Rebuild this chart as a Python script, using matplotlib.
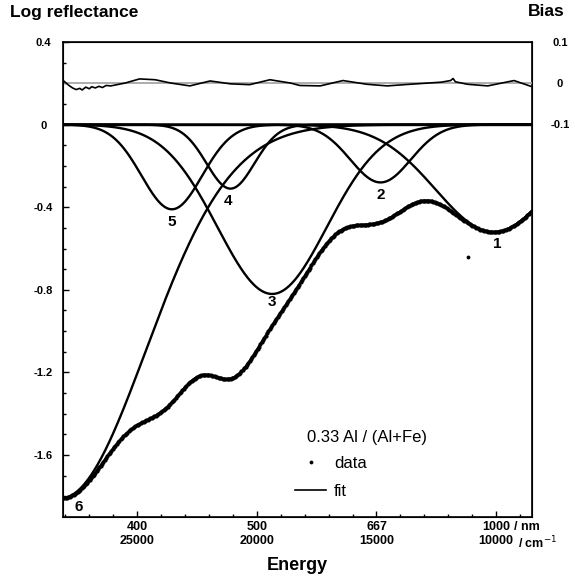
import numpy as np
import matplotlib.pyplot as plt
from matplotlib.lines import Line2D

plt.rcParams['font.family'] = ['Liberation Sans', 'DejaVu Sans']

# gaussian bands: centre (cm-1), depth (log R), sigma (cm-1)
band_ids = ['1', '2', '3', '4', '5', '6']
band_centre = [10100, 14830, 19360, 21100, 23550, 28200]
band_depth = [0.52, 0.28, 0.82, 0.31, 0.41, 1.81]
band_sigma = [2420, 1260, 2280, 1000, 1260, 3550]
label_x = [9940, 14830, 19360, 21200, 23540, 27440]
label_y = [-0.58, -0.34, -0.86, -0.37, -0.47, -1.85]

# bias (data - fit) read at these wavenumbers
bias_x = [28050, 27850, 27700, 27550, 27400, 27300, 27150, 27000, 26900, 26750,
          26600, 26450, 26300, 26100, 25500, 24900, 24250, 23600, 22800, 21950,
          21100, 20300, 19450, 18600, 18200, 17350, 16400, 15400, 14550, 13600,
          12300, 11900, 11800, 11700, 11200, 10350, 9250, 8550]
bias_y = [0.004, -0.006, -0.012, -0.016, -0.013, -0.017, -0.010, -0.014, -0.009, -0.012,
          -0.008, -0.011, -0.006, -0.007, 0.0, 0.010, 0.008, 0.0, -0.007, 0.005,
          -0.002, -0.004, 0.008, 0.0, -0.006, -0.007, 0.006, -0.003, -0.007, -0.003,
          0.002, 0.006, 0.011, 0.003, -0.003, -0.007, 0.006, -0.008]

# one stray data point
stray_x = [11160]
stray_y = [-0.64]

tick_wn = [25000, 20000, 15000, 10000]
tick_nm = ['400', '500', '667', '1000']

wn = np.linspace(28100, 8500, 700)
bands = []
for c, d, s in zip(band_centre, band_depth, band_sigma):
    bands.append(-d * np.exp(-(wn - c) ** 2 / (2 * s ** 2)))
total = np.sum(bands, axis=0)

fig = plt.figure(figsize=(5.75, 5.76), dpi=100)
ax = fig.add_axes([63 / 575, 1 - 517 / 576, 469 / 575, 475 / 576])

for b in bands:
    ax.plot(wn, b, color='k', lw=1.7)
ax.plot(wn[::2], total[::2], '.', color='k', ms=4)
ax.plot(stray_x, stray_y, '.', color='k', ms=3.5)
ax.plot(wn, total, color='k', lw=1.8)
ax.axhline(0, color='k', lw=1.0)

for t, x, y in zip(band_ids, label_x, label_y):
    ax.text(x, y, t, ha='center', va='center', fontsize=11, fontweight='bold')

ax.set_xlim(28100, 8500)
ax.set_ylim(-1.9, 0.4)
ax.set_yticks([0.4, 0, -0.4, -0.8, -1.2, -1.6])
ax.set_yticklabels(['0.4', '0', '-0.4', '-0.8', '-1.2', '-1.6'])
ax.set_yticks(np.arange(-1.8, 0.35, 0.1), minor=True)
ax.set_xticks(tick_wn)
ax.set_xticklabels([f'{n}\n{w}' for n, w in zip(tick_nm, tick_wn)])
ax.set_xticks(np.arange(9000, 28001, 1000), minor=True)
ax.tick_params(axis='both', which='both', direction='in', top=False, right=False)
ax.tick_params(axis='both', which='major', length=4, width=1)
ax.tick_params(axis='both', which='minor', length=2.5, width=1)
ax.tick_params(axis='y', pad=14, labelsize=8)
ax.tick_params(axis='x', pad=3, labelsize=9)
for lb in ax.get_yticklabels():
    lb.set_horizontalalignment('center')
    lb.set_fontweight('bold')
for lb in ax.get_xticklabels():
    lb.set_fontweight('bold')
    lb.set_linespacing(1.25)
for sp in ax.spines.values():
    sp.set_linewidth(1.2)

ax2 = ax.twinx()
ax2.set_ylim(-1.058, 0.1)
ax2.axhline(0, color='0.65', lw=1.3)
ax2.plot(bias_x, bias_y, color='k', lw=1.2)
ax2.set_yticks([0.1, 0, -0.1])
ax2.set_yticklabels(['0.1', '0', '-0.1'])
ax2.tick_params(axis='y', length=0, pad=20, labelsize=8)
for lb in ax2.get_yticklabels():
    lb.set_horizontalalignment('center')
    lb.set_fontweight('bold')

# legend
ax.text(0.52, 0.168, '0.33 Al / (Al+Fe)', transform=ax.transAxes, fontsize=12,
        va='center', ha='left')
handles = [Line2D([], [], marker='.', ls='none', color='k', ms=3.5),
           Line2D([], [], color='k', lw=1.2)]
ax.legend(handles, ['data', 'fit'], loc='upper left', bbox_to_anchor=(0.494, 0.128),
          frameon=False, fontsize=12, borderpad=0, borderaxespad=0,
          handlelength=1.9, handletextpad=0.45, labelspacing=0.75)

fig.text(10 / 575, 1 - 12 / 576, 'Log reflectance', fontsize=12.5, fontweight='bold',
         va='center', ha='left')
fig.text(528 / 575, 1 - 12 / 576, 'Bias', fontsize=12.5, fontweight='bold',
         va='center', ha='left')
fig.text(297 / 575, 1 - 565 / 576, 'Energy', fontsize=13, fontweight='bold',
         va='center', ha='center')
fig.text(514 / 575, 1 - 527 / 576, '/ nm', fontsize=9, fontweight='bold', va='center')
fig.text(518 / 575, 1 - 543 / 576, '/ cm$^{-1}$', fontsize=9, fontweight='bold', va='center')

fig.savefig('out.png', dpi=100)
